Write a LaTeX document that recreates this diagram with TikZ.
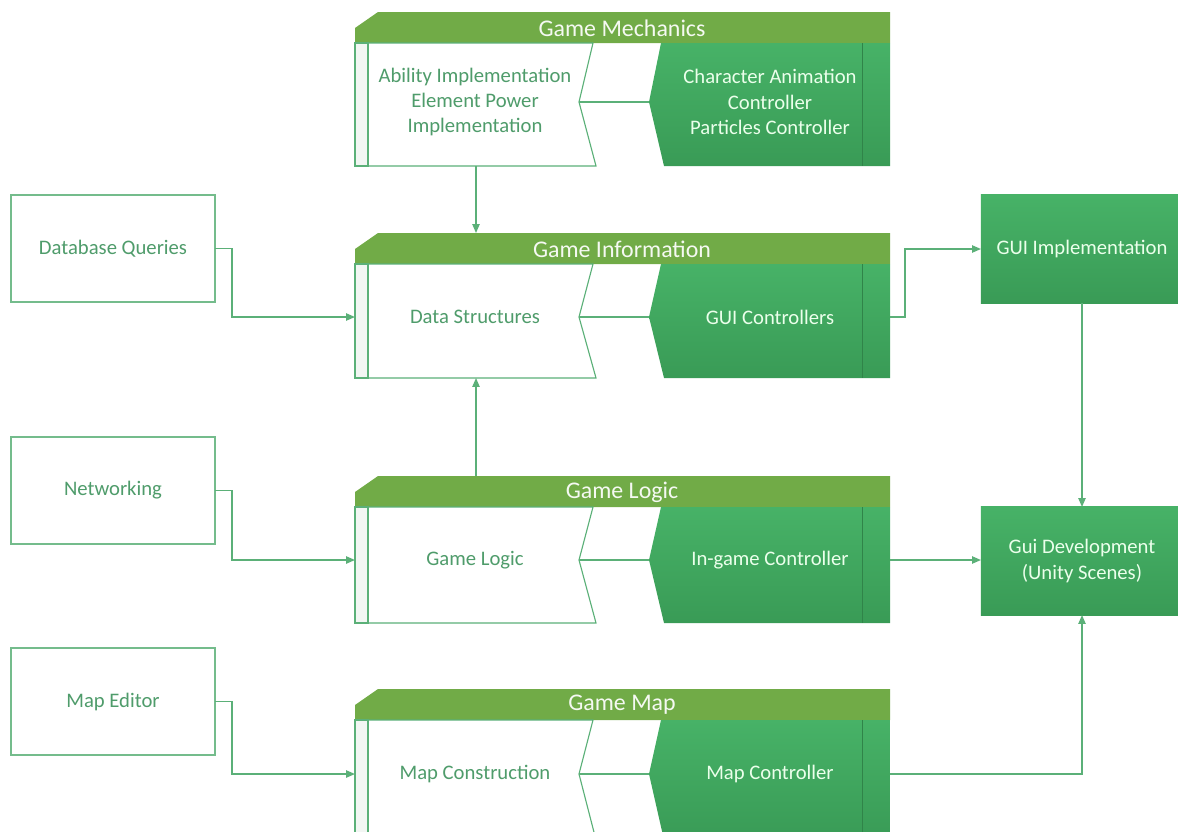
\documentclass[tikz,border=0pt]{standalone}
\usepackage{fontspec}
\setmainfont{Carlito}
\usetikzlibrary{calc}
\usetikzlibrary{arrows.meta}

\definecolor{barGreen}{HTML}{71AB47}
\definecolor{boxGreen}{HTML}{399B56}
\definecolor{boxLight}{HTML}{47B267}
\definecolor{lineGreen}{HTML}{5BB078}
\definecolor{textGreen}{HTML}{4F9C6B}
\definecolor{stripGrey}{HTML}{F2F6F3}

\begin{document}
\begin{tikzpicture}[x=0.025cm,y=-0.025cm,
  conn/.style={lineGreen,line width=1pt},
  arr/.style={conn,-{Triangle[length=2.2mm,width=1.8mm]}},
  plainbox/.style={draw=lineGreen!85,line width=0.8pt,fill=white,text=textGreen,minimum width=5.1cm,minimum height=2.675cm,outer sep=0pt,font=\fontsize{14.7}{18}\selectfont},
  greenbox/.style={top color=boxLight,bottom color=boxGreen,text=white!92!green,minimum width=5.05cm,minimum height=2.7cm,outer sep=0pt,align=center,font=\fontsize{14.7}{18}\selectfont},
  titletext/.style={text=white!93!barGreen,font=\fontsize{17}{20}\selectfont},
  lefttext/.style={text=textGreen,align=center,font=\fontsize{14.7}{18}\selectfont},
  righttext/.style={text=white!92!green,align=center,font=\fontsize{14.7}{18}\selectfont}]
\useasboundingbox (0,0) rectangle (1178,831);
\clip (0,0) rectangle (1178,831);

\node[plainbox] (dbq) at (113,248.5) {Database Queries};
\node[plainbox] (net) at (113,490.5) {Networking};
\node[plainbox] (mapedit) at (113,701.5) {Map Editor};

\node[greenbox] (guiimp) at (1082,249) {GUI Implementation};
\node[greenbox] (guidev) at (1082,561) {Gui Development\\(Unity Scenes)};

\foreach \n/\hy/\by/\py/\ti/\lt/\rt in {
  mech/12/166/102/{Game Mechanics}/{Ability Implementation\\Element Power\\Implementation}/{Character Animation\\Controller\\Particles Controller},
  info/233/378/317/{Game Information}/{Data Structures}/{GUI Controllers},
  logic/476/623/560/{Game Logic}/{Game Logic}/{In-game Controller},
  map/689/840/774/{Game Map}/{Map Construction}/{Map Controller}}
{
  \fill[barGreen] (355,\hy+16) -- (378,\hy) -- (890,\hy) -- (890,\hy+31) -- (355,\hy+31) -- cycle;
  \node[titletext] (\n-title) at (622,\hy+16) {\ti};
  \filldraw[fill=white,draw=lineGreen,line width=0.8pt] (355,\hy+31) -- (593,\hy+31) -- (579,\py) -- (596,\by) -- (355,\by) -- cycle;
  \filldraw[fill=stripGrey,draw=lineGreen,line width=0.8pt] (355,\hy+31) rectangle (368,\by);
  \shade[top color=boxLight,bottom color=boxGreen] (661,\hy+31) -- (890,\hy+31) -- (890,\by) -- (664,\by) -- (649,\py) -- cycle;
  \draw[boxGreen!85!black,line width=0.6pt] (862,\hy+31) -- (862,\by);
  \node[lefttext] (\n-left) at (475,\py) {\lt};
  \node[righttext] (\n-right) at (770,\py) {\rt};
  \coordinate (\n-lp) at (579,\py);
  \coordinate (\n-rp) at (649,\py);
  \coordinate (\n-in) at (355,\py);
  \coordinate (\n-out) at (890,\py);
  \coordinate (\n-top) at (476,\hy);
  \coordinate (\n-bot) at (476,\by);
  \draw[conn] (\n-lp) -- (\n-rp);
}

\draw[arr] (mech-bot) -- (info-top);
\draw[arr] (logic-top) -- (info-bot);
\draw[arr] (dbq.east) -- ++(17,0) |- (info-in);
\draw[arr] (net.east) -- ++(17,0) |- (logic-in);
\draw[arr] (mapedit.east) -- ++(17,0) |- (map-in);
\draw[arr] (info-out) -- ++(15,0) |- (guiimp.west);
\draw[arr] (logic-out) -- (logic-out -| guidev.west);
\draw[arr] (guiimp.south) -- (guidev.north);
\draw[arr] (map-out) -| (guidev.south);
\end{tikzpicture}
\end{document}
